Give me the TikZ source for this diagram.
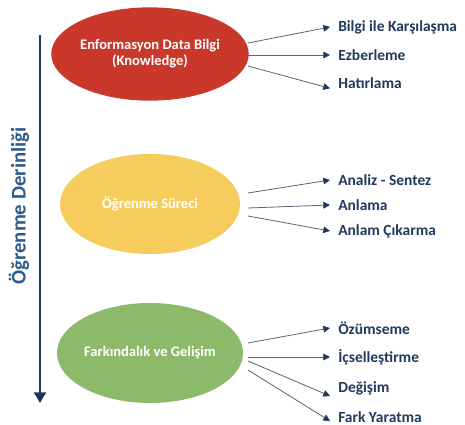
\documentclass[tikz,border=0pt]{standalone}
\usepackage{fontspec}
\setmainfont{Carlito}
\usepackage{tikz}
\usetikzlibrary{shapes.geometric, arrows.meta}

\definecolor{ogRed}{HTML}{C9382A}
\definecolor{ogYellow}{HTML}{F6CD5C}
\definecolor{ogGreen}{HTML}{8DB96A}
\definecolor{ogNavy}{HTML}{1F3A5F}
\definecolor{ogBlue}{HTML}{2E5C8A}
\definecolor{ogLine}{HTML}{55657A}

\tikzset{
  level/.style={ellipse, minimum width=135pt, minimum height=72pt, inner sep=0pt,
    text=white, font=\bfseries\fontsize{10.9}{12}\selectfont, align=center},
  item/.style={anchor=west, inner sep=0pt, text=ogNavy, font=\bfseries\fontsize{11.6}{13}\selectfont},
  link/.style={draw=ogLine, line width=0.6pt, -{Triangle[length=5pt,width=5pt,color=ogNavy,fill=ogNavy]}}
}

\begin{document}
\begin{tikzpicture}[x=0.75pt,y=0.75pt,yscale=-1,xscale=1]
    \useasboundingbox (0,0) rectangle (465,425);

    %Depth axis
    \coordinate (top) at (40,35);
    \coordinate (bottom) at (40,403);
    \draw [ogNavy, line width=1.6pt, -{Triangle[length=8pt,width=9pt]}] (top) -- (bottom);
    \node (depth) [rotate=90, text=ogBlue, font=\bfseries\fontsize{15.6}{17}\selectfont] at (19,206) {Öğrenme Derinliği};

    %Ellipses
    \node (info) [level, fill=ogRed, minimum height=70pt] at (150,54) {Enformasyon Data Bilgi\\(Knowledge)};
    \node (learn) [level, fill=ogYellow, minimum height=75pt] at (150,204) {Öğrenme Süreci};
    \node (grow) [level, fill=ogGreen, minimum height=75pt] at (150,353) {Farkındalık ve Gelişim};

    % Text Node
    \node (i1) [item] at (338,27) {Bilgi ile Karşılaşma};
    \node (i2) [item] at (338,55) {Ezberleme};
    \node (i3) [item] at (338,83) {Hatırlama};
    \node (l1) [item] at (338,180) {Analiz - Sentez};
    \node (l2) [item] at (338,205) {Anlama};
    \node (l3) [item] at (338,231) {Anlam Çıkarma};
    \node (g1) [item] at (338,328) {Özümseme};
    \node (g2) [item] at (338,357) {İçselleştirme};
    \node (g3) [item] at (338,388) {Değişim};
    \node (g4) [item] at (338,417) {Fark Yaratma};

    %Start points
    \coordinate (si1) at (248,43);
    \coordinate (si2) at (248,55);
    \coordinate (si3) at (248,66);
    \coordinate (sl1) at (248,193);
    \coordinate (sl2) at (248,208);
    \coordinate (sl3) at (248,216);
    \coordinate (sg1) at (248,343);
    \coordinate (sg2) at (248,357);
    \coordinate (sg3) at (248,361);
    \coordinate (sg4) at (248,370);

    %Straight Lines
    \draw [link] (si1) -- ([xshift=-6pt]i1.west);
    \draw [link] (si2) -- ([xshift=-6pt]i2.west);
    \draw [link] (si3) -- ([xshift=-6pt,yshift=4pt]i3.west);
    \draw [link] (sl1) -- ([xshift=-6pt]l1.west);
    \draw [link] (sl2) -- ([xshift=-6pt]l2.west);
    \draw [link] (sl3) -- ([xshift=-6pt]l3.west);
    \draw [link] (sg1) -- ([xshift=-6pt]g1.west);
    \draw [link] (sg2) -- ([xshift=-6pt]g2.west);
    \draw [link] (sg3) -- ([xshift=-6pt,yshift=6pt]g3.west);
    \draw [link] (sg4) -- ([xshift=-6pt,yshift=3pt]g4.west);
\end{tikzpicture}
\end{document}
